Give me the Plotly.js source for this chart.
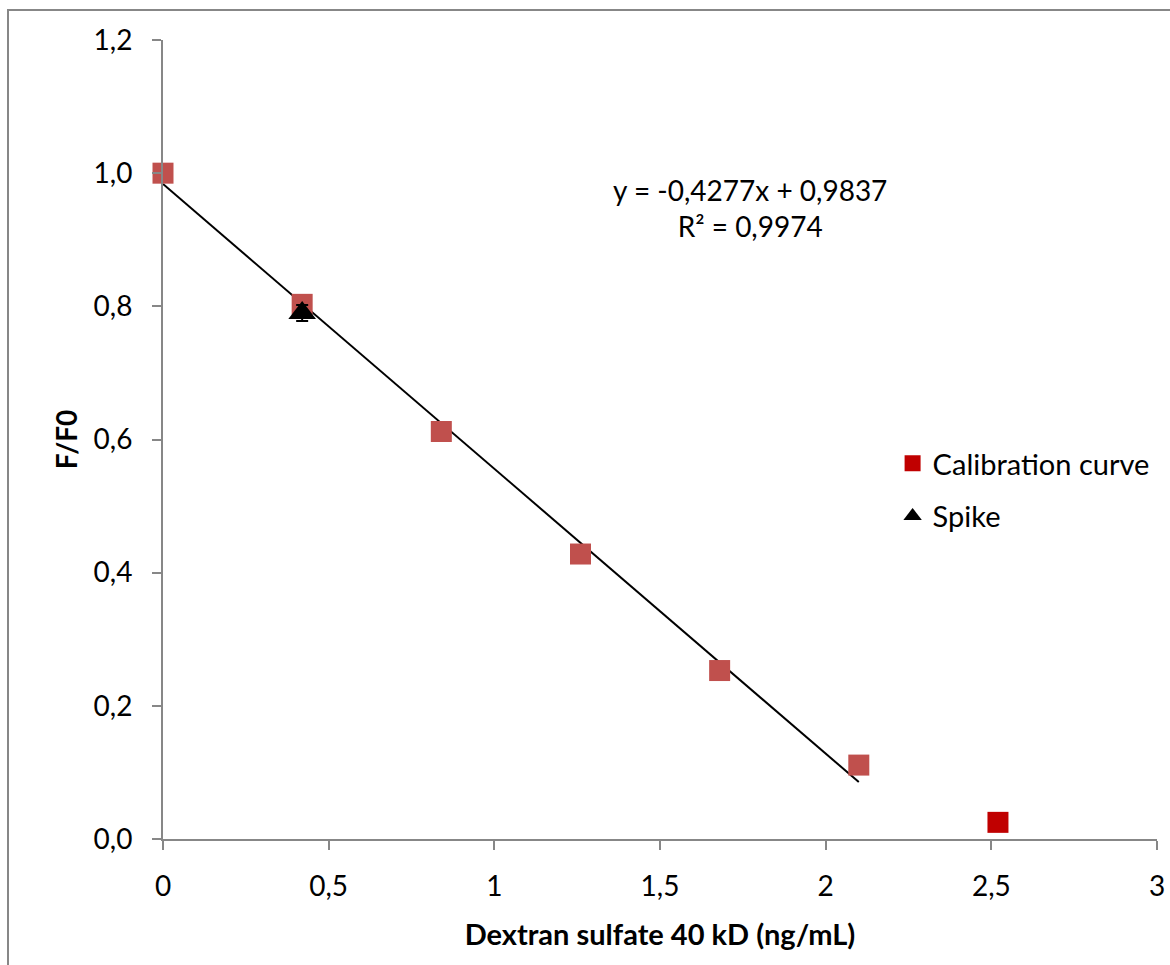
<!DOCTYPE html>
<html>
<head>
<meta charset="utf-8">
<script src="https://cdn.plot.ly/plotly-3.0.1.min.js"></script>
<style>
html,body{margin:0;padding:0;background:#fff;}
#chart{width:1170px;height:965px;}
</style>
</head>
<body>
<div id="chart"></div>
<script>
// Data
const calX = [0, 0.42, 0.84, 1.26, 1.68, 2.10];
const calY = [1.000, 0.803, 0.612, 0.428, 0.253, 0.111];
const calLastX = [2.52];
const calLastY = [0.025];
const spikeX = [0.42];
const spikeY = [0.790];
const spikeErr = [0.012];
const fitSlope = -0.4277;
const fitIntercept = 0.9837;
const fitRange = [0, 2.10];
const xTickVals = [0, 0.5, 1, 1.5, 2, 2.5, 3];
const xTickText = ['0', '0,5', '1', '1,5', '2', '2,5', '3'];
const yTickVals = [0, 0.2, 0.4, 0.6, 0.8, 1.0, 1.2];
const yTickText = ['0,0', '0,2', '0,4', '0,6', '0,8', '1,0', '1,2'];
const eqText = 'y = -0,4277x + 0,9837<br>R² = 0,9974';

const fitX = fitRange;
const fitY = fitRange.map(x => fitSlope * x + fitIntercept);

const font = "Lato, 'Open Sans', sans-serif";

const traces = [
  {
    x: fitX, y: fitY, mode: 'lines', type: 'scatter',
    line: {color: '#000000', width: 2},
    showlegend: false, hoverinfo: 'skip', cliponaxis: false
  },
  {
    x: calX, y: calY, mode: 'markers', type: 'scatter',
    name: 'Calibration curve points', showlegend: false, cliponaxis: false,
    marker: {symbol: 'square', size: 21, color: '#C0504D', line: {width: 0}}
  },
  {
    x: calLastX, y: calLastY, mode: 'markers', type: 'scatter',
    name: 'Calibration curve', legendgroup: 'a', legendrank: 1, cliponaxis: false,
    marker: {symbol: 'square', size: 21, color: '#C00000', line: {width: 0}}
  },
  {
    x: spikeX, y: spikeY, mode: 'markers', type: 'scatter',
    name: 'Spike', legendgroup: 'b', legendrank: 2, cliponaxis: false,
    marker: {symbol: 'triangle-up', size: 24, color: '#000000'},
    error_y: {type: 'data', array: spikeErr, visible: true, color: '#000000', thickness: 2, width: 6}
  }
];

const layout = {
  width: 1170, height: 965,
  margin: {l: 163, r: 13, t: 40, b: 126},
  paper_bgcolor: '#ffffff', plot_bgcolor: '#ffffff',
  font: {family: font, size: 28, color: '#000000'},
  showlegend: true,
  legend: {
    x: 0.734, y: 0.502, xanchor: 'left', yanchor: 'top',
    font: {family: font, size: 29, color: '#000000'},
    bgcolor: 'rgba(0,0,0,0)', itemsizing: 'trace',
    traceorder: 'grouped', tracegroupgap: 12
  },
  xaxis: {
    range: [0, 3], tickmode: 'array', tickvals: xTickVals, ticktext: xTickText,
    showgrid: false, zeroline: false, showline: true, linecolor: '#878787', linewidth: 2,
    ticks: 'outside', ticklen: 9, tickwidth: 2, tickcolor: '#878787',
    ticklabelstandoff: 12,
    tickfont: {family: font, size: 28}, fixedrange: true,
    title: {text: '<b>Dextran sulfate 40 kD (ng/mL)</b>', font: {family: font, size: 29}, standoff: 24}
  },
  yaxis: {
    range: [0, 1.2], tickmode: 'array', tickvals: yTickVals, ticktext: yTickText,
    showgrid: false, zeroline: false, showline: true, linecolor: '#878787', linewidth: 2,
    ticks: 'outside', ticklen: 9, tickwidth: 2, tickcolor: '#878787',
    ticklabelstandoff: 14,
    tickfont: {family: font, size: 28}, fixedrange: true,
    title: {text: '<b>F/F0</b>', font: {family: font, size: 28}, standoff: 8}
  },
  annotations: [
    {x: 1.772, y: 0.948, xref: 'x', yref: 'y', text: eqText, showarrow: false,
     font: {family: font, size: 28, color: '#000000'}, align: 'center'}
  ],
  shapes: [
    {type: 'rect', xref: 'paper', yref: 'paper',
     x0: (8 - 163) / 994, x1: 1.2, y0: -0.5, y1: (839 - 10) / 799,
     line: {color: '#878787', width: 2}, fillcolor: 'rgba(0,0,0,0)', layer: 'below'}
  ]
};

Plotly.newPlot('chart', traces, layout, {displayModeBar: false, staticPlot: true});
</script>
</body>
</html>
